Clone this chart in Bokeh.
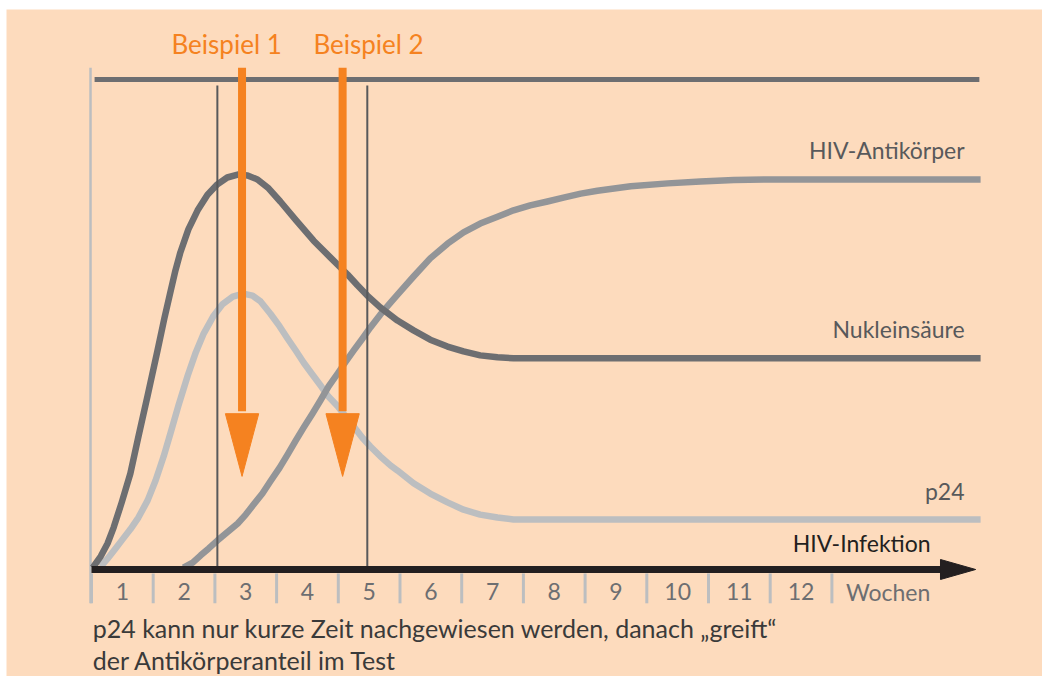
from bokeh.plotting import figure
from bokeh.models import Range1d
from bokeh.embed import file_html
from bokeh.resources import INLINE
from bokeh.core.properties import value

# ---------------- data (weeks after infection / relative level) ----------------
nuc_weeks = [0.02, 0.15, 0.26, 0.36, 0.49, 0.63, 0.76, 0.91, 1.07, 1.18,
             1.28, 1.36, 1.44, 1.57, 1.72, 1.88, 2.04, 2.20, 2.37, 2.53,
             2.69, 2.87, 3.06, 3.32, 3.60, 3.87, 4.15, 4.31, 4.47, 4.68,
             4.96, 5.22, 5.49, 5.77, 6.03, 6.30, 6.58, 6.84, 7.11, 14.41]
nuc_level = [0.4, 2.7, 5.3, 8.6, 13.7, 19.6, 27.1, 35.5, 44.7, 51.2,
             56.7, 61.0, 64.7, 69.4, 73.3, 76.5, 78.6, 80.0, 80.6, 80.4,
             79.6, 77.8, 75.1, 71.2, 67.1, 63.7, 60.2, 58.0, 55.9, 53.5,
             50.8, 48.8, 46.9, 45.5, 44.5, 43.7, 43.3, 43.1, 43.1, 43.1]

ab_weeks = [1.49, 1.64, 1.77, 1.90, 2.04, 2.20, 2.37, 2.50, 2.63, 2.77,
            2.90, 3.05, 3.18, 3.31, 3.44, 3.58, 3.71, 3.84, 3.99, 4.12,
            4.25, 4.39, 4.52, 4.68, 4.85, 4.96, 5.22, 5.49, 5.77, 6.03,
            6.30, 6.58, 6.84, 7.11, 7.39, 7.65, 7.93, 8.20, 8.74, 9.34,
            9.87, 10.41, 11.00, 14.41]
ab_level = [0.4, 1.4, 2.9, 4.3, 5.9, 7.6, 9.4, 11.2, 13.3, 15.5,
            18.0, 20.8, 23.5, 26.3, 29.0, 31.8, 34.5, 37.3, 40.0, 42.4,
            44.7, 47.1, 49.4, 52.0, 54.5, 56.1, 59.8, 63.5, 66.5, 68.8,
            70.6, 72.0, 73.3, 74.3, 75.1, 75.9, 76.7, 77.3, 78.2, 78.8,
            79.2, 79.5, 79.6, 79.6]

p24_weeks = [0.15, 0.26, 0.39, 0.50, 0.63, 0.76, 0.91, 1.04, 1.17, 1.28,
             1.41, 1.56, 1.69, 1.82, 1.98, 2.12, 2.29, 2.46, 2.61, 2.74,
             2.90, 3.05, 3.18, 3.31, 3.44, 3.58, 3.71, 3.84, 3.99, 4.12,
             4.25, 4.39, 4.52, 4.68, 4.85, 4.96, 5.22, 5.49, 5.77, 6.03,
             6.30, 6.58, 6.84, 7.11, 14.41]
p24_level = [0.6, 2.2, 4.3, 6.1, 8.2, 10.6, 14.1, 18.2, 23.1, 27.8,
             33.5, 39.6, 44.3, 48.2, 51.8, 54.1, 55.7, 56.3, 55.9, 54.7,
             52.2, 49.6, 47.1, 44.7, 42.2, 39.8, 37.6, 35.3, 33.3, 31.2,
             29.2, 26.9, 25.1, 23.1, 21.2, 20.2, 17.6, 15.5, 13.7, 12.2,
             11.2, 10.6, 10.2, 10.2, 10.2]

series_names = ["HIV-Antikörper", "Nukleinsäure", "p24"]

example_names = ["Beispiel 1", "Beispiel 2"]
example_weeks = [2.44, 4.07]
window_weeks = [2.04, 4.47]

tick_weeks = [0, 1, 2, 3, 4, 5, 6, 7, 8, 9, 10, 11, 12]
week_labels = ["1", "2", "3", "4", "5", "6", "7", "8", "9", "10", "11", "12"]
unit_label = "Wochen"
axis_title = "HIV-Infektion"
caption_lines = ["p24 kann nur kurze Zeit nachgewiesen werden, danach \u201egreift\u201c",
                 "der Antikörperanteil im Test"]

# ---------------- style ----------------
BG = "#FDDBBD"
C_NUC = "#6D6E71"
C_AB = "#939598"
C_P24 = "#BCBEC0"
C_ORANGE = "#F58220"
C_AXIS = "#231F20"
C_THIN = "#58595B"
C_TICK = "#BCBEC0"
FONT = value("Lato")


def lift(size):
    # compensate the renderer's baseline placement so texts sit on the intended baseline
    return -round(0.38 * size)


TOP_LEVEL = 100.0

p = figure(width=1042, height=676,
           x_range=Range1d(-1.3776, 15.4133), y_range=Range1d(-21.837, 114.286),
           output_backend="svg", toolbar_location=None,
           min_border_left=6, min_border_top=9, min_border_right=0, min_border_bottom=0,
           x_axis_type=None, y_axis_type=None)
p.grid.visible = False
p.outline_line_color = None
p.background_fill_color = BG
p.border_fill_color = "white"

# top reference line and left vertical line
p.segment(x0=[0.05], y0=[TOP_LEVEL], x1=[14.39], y1=[TOP_LEVEL], line_color=C_NUC, line_width=5)
p.segment(x0=[-0.016], y0=[102.4], x1=[-0.016], y1=[-6.9], line_color=C_TICK, line_width=2.5)

# curves
for xs, ys, col in [(p24_weeks, p24_level, C_P24), (ab_weeks, ab_level, C_AB),
                    (nuc_weeks, nuc_level, C_NUC)]:
    p.line(xs, ys, line_color=col, line_width=6.5, line_join="round", line_cap="butt")

# series labels (right aligned, just above the plateau of each curve)
finals = [ab_level[-1], nuc_level[-1], p24_level[-1]]
p.text(x=[14.15] * 3, y=finals, text=series_names, text_font=FONT, text_font_size="23px",
       text_color="#58595B", text_align="right", text_baseline="alphabetic",
       y_offset=-20 + lift(23))

# thin vertical test-window lines
p.segment(x0=window_weeks, y0=[98.8] * 2, x1=window_weeks, y1=[0] * 2,
          line_color=C_THIN, line_width=2)

# x axis arrow
p.segment(x0=[0], y0=[0], x1=[13.78], y1=[0], line_color=C_AXIS, line_width=7)
p.patch([13.76, 13.76, 14.33], [2.04, -2.04, 0], fill_color=C_AXIS, line_color=C_AXIS)

# tick separators and week labels
p.segment(x0=tick_weeks, y0=[-0.8] * len(tick_weeks), x1=tick_weeks, y1=[-6.9] * len(tick_weeks),
          line_color=C_TICK, line_width=3)
p.text(x=[w + 0.5 for w in tick_weeks[:-1]], y=[-6.33] * len(week_labels), text=week_labels,
       text_font=FONT, text_font_size="23px", text_color="#6D6E71",
       text_align="center", text_baseline="alphabetic", y_offset=lift(23))
p.text(x=[tick_weeks[-1]], y=[-6.33], text=[unit_label], text_font=FONT, text_font_size="23px",
       text_color="#6D6E71", text_align="left", text_baseline="alphabetic",
       x_offset=14, y_offset=lift(23))
p.text(x=[13.60], y=[3.47], text=[axis_title], text_font=FONT, text_font_size="23px",
       text_color=C_AXIS, text_align="right", text_baseline="alphabetic", y_offset=lift(23))

# example arrows
HEAD_TOP, HEAD_TIP, HEAD_HW = 31.8, 19.0, 0.27
p.segment(x0=example_weeks, y0=[102.4] * 2, x1=example_weeks, y1=[HEAD_TOP + 0.5] * 2,
          line_color=C_ORANGE, line_width=8)
p.patches(xs=[[w - HEAD_HW, w + HEAD_HW, w] for w in example_weeks],
          ys=[[HEAD_TOP, HEAD_TOP, HEAD_TIP] for _ in example_weeks],
          fill_color=C_ORANGE, line_color=C_ORANGE)
p.text(x=[2.19, 4.49], y=[105.3] * 2, text=example_names, text_font=FONT,
       text_font_size="26px", text_color=C_ORANGE, text_align="center",
       text_baseline="alphabetic", y_offset=lift(26))

# caption (two lines, kept inside the picture)
p.text(x=[0.02] * 2, y=[-13.88, -20.41], text=caption_lines, text_font=FONT,
       text_font_size="25px", text_color="#3A3A3A", text_align="left",
       text_baseline="alphabetic", y_offset=lift(25))

open("out.html", "w").write(file_html(p, INLINE))
